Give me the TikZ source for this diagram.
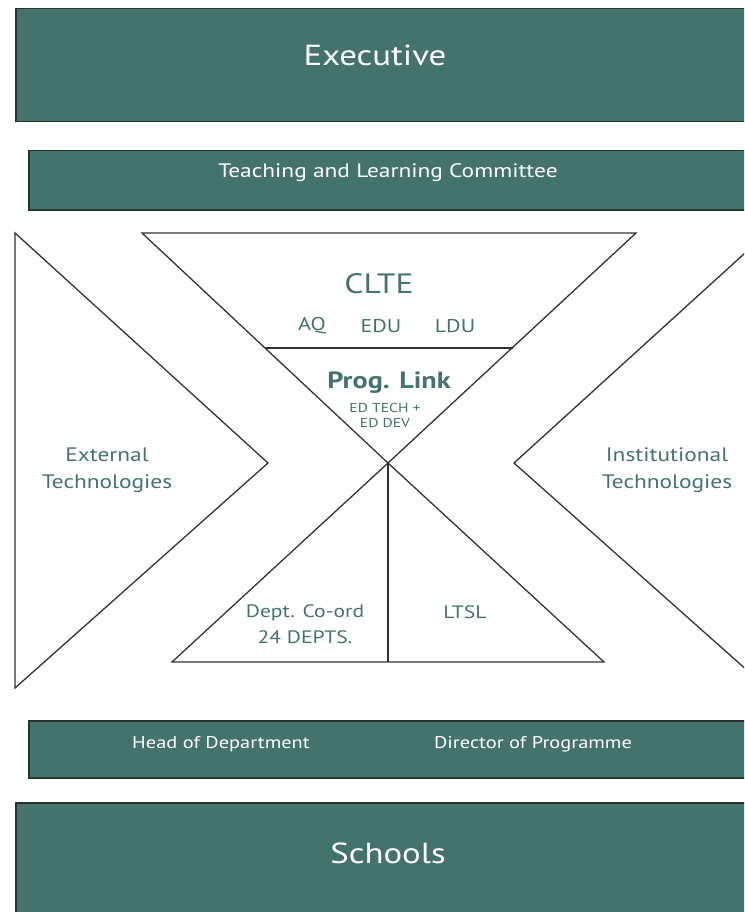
\documentclass[tikz,border=0pt]{standalone}
\usepackage{fontspec}
\setmainfont{PT Sans}
\definecolor{teal1}{HTML}{43736C}
\definecolor{edge1}{HTML}{26332F}
\definecolor{line1}{HTML}{333333}
\begin{document}
\begin{tikzpicture}[x=1pt,y=-1pt,
  box/.style={draw=edge1, line width=1.5pt, fill=teal1, anchor=north west, inner sep=0pt},
  wtext/.style={text=white, inner sep=0pt, anchor=center, xscale=1.2, transform shape},
  ttext/.style={text=teal1, inner sep=0pt, anchor=center, align=center, xscale=1.2, transform shape},
  shape1/.style={draw=line1, line width=1.3pt, line join=miter}]
\useasboundingbox (0,0) rectangle (744,912);
\clip (0,0) rectangle (744,912);
% boxes
\node[box, minimum width=745pt, minimum height=113pt] (exec) at (15,8) {};
\node[wtext, font=\fontsize{29}{33}\selectfont] (execT) at (375,55) {Executive};
\node[box, minimum width=730pt, minimum height=59pt] (tlc) at (28,150) {};
\node[wtext, font=\fontsize{19.5}{23}\selectfont] (tlcT) at (388,173) {Teaching and Learning Committee};
\node[box, minimum width=730pt, minimum height=57pt] (hod) at (28,720) {};
\node[wtext, font=\fontsize{17}{20}\selectfont] (hodT) at (221,744) {Head of Department};
\node[wtext, font=\fontsize{17}{20}\selectfont] (dopT) at (533,744) {Director of Programme};
\node[box, minimum width=745pt, minimum height=130pt] (sch) at (15,802) {};
\node[wtext, font=\fontsize{29}{33}\selectfont] (schT) at (388,853) {Schools};
% shapes
\coordinate (c) at (388,463);
\coordinate (lt) at (15,233);
\coordinate (lb) at (15,688);
\coordinate (la) at (268,463);
\coordinate (rt) at (767,233);
\coordinate (rb) at (767,688);
\coordinate (ra) at (514,463);
\coordinate (tl) at (142,233);
\coordinate (tr) at (636,233);
\coordinate (ml) at (265,348);
\coordinate (mr) at (513,348);
\coordinate (bl) at (172,662);
\coordinate (br) at (604,662);
\coordinate (bm) at (388,662);
\draw[shape1] (lt) -- (la) -- (lb) -- cycle;
\draw[shape1] (rt) -- (ra) -- (rb);
\draw[shape1] (tl) -- (tr) -- (c) -- cycle;
\draw[shape1] (ml) -- (mr);
\draw[shape1] (c) -- (bl) -- (br) -- cycle;
\draw[shape1] (c) -- (bm);
% texts
\node[ttext, font=\fontsize{28}{30}\selectfont] (clte) at (379,284) {CLTE};
\node[ttext, font=\fontsize{18.5}{20}\selectfont] (aq) at (312,326) {AQ};
\node[ttext, font=\fontsize{18.5}{20}\selectfont] (edu) at (381,326) {EDU};
\node[ttext, font=\fontsize{18.5}{20}\selectfont] (ldu) at (455,326) {LDU};
\node[ttext, font=\bfseries\fontsize{23.5}{26}\selectfont] (prog) at (389,383) {Prog. Link};
\node[ttext, font=\fontsize{13}{15}\selectfont] (edt) at (385,415) {ED TECH +\\ED DEV};
\node[ttext, font=\fontsize{19.5}{27}\selectfont] (ext) at (107,470) {External\\Technologies};
\node[ttext, font=\fontsize{19.5}{27}\selectfont] (inst) at (667,470) {Institutional\\Technologies};
\node[ttext, font=\fontsize{18}{26}\selectfont] (dept) at (305,624) {Dept. Co-ord\\24 DEPTS.};
\node[ttext, font=\fontsize{18}{20}\selectfont] (ltsl) at (465,612) {LTSL};
\end{tikzpicture}
\end{document}
